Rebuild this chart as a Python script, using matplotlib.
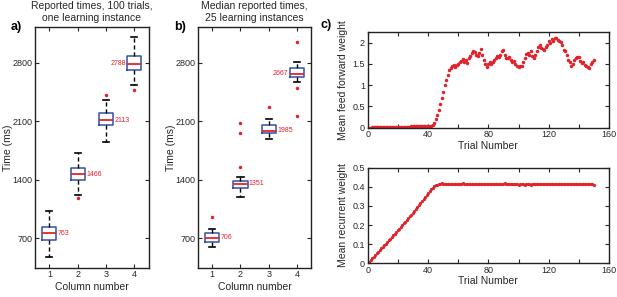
import matplotlib
matplotlib.use("Agg")
import matplotlib.pyplot as plt
import numpy as np

plt.rcParams['font.family'] = ['Liberation Sans', 'DejaVu Sans']

# ---------------- data ----------------
columns = [1, 2, 3, 4]
a_med = [763, 1466, 2113, 2788]
a_q1 = [680, 1394, 2053, 2715]
a_q3 = [839, 1538, 2196, 2874]
a_lo = [476, 1222, 1856, 2535]
a_hi = [1030, 1717, 2355, 3101]
a_fliers = [[], [1186], [2415], [2476]]

b_med = [706, 1351, 1985, 2667]
b_q1 = [659, 1299, 1959, 2629]
b_q3 = [770, 1390, 2058, 2740]
b_lo = [598, 1190, 1887, 2569]
b_hi = [815, 1438, 2132, 2812]
b_fliers = [[958], [1550, 1957, 2077], [2265], [2166, 2501, 3044]]

time_ticks = [700, 1400, 2100, 2800]

trials = list(range(1, 151))
ff_weight = [
    0.00, 0.00, 0.01, 0.01, 0.01, 0.01, 0.01, 0.01, 0.01, 0.01,
    0.01, 0.01, 0.01, 0.02, 0.02, 0.02, 0.02, 0.02, 0.02, 0.02,
    0.02, 0.02, 0.02, 0.02, 0.02, 0.02, 0.02, 0.02, 0.03, 0.03,
    0.03, 0.03, 0.03, 0.03, 0.03, 0.03, 0.03, 0.03, 0.03, 0.03,
    0.04, 0.05, 0.07, 0.12, 0.20, 0.30, 0.42, 0.55, 0.70, 0.85,
    1.00, 1.12, 1.25, 1.35, 1.40, 1.45, 1.47, 1.43, 1.48, 1.50,
    1.55, 1.58, 1.62, 1.55, 1.60, 1.52, 1.65, 1.68, 1.75, 1.80,
    1.78, 1.70, 1.68, 1.75, 1.85, 1.72, 1.60, 1.50, 1.43, 1.50,
    1.55, 1.50, 1.55, 1.60, 1.65, 1.68, 1.67, 1.72, 1.80, 1.82,
    1.70, 1.65, 1.63, 1.67, 1.60, 1.55, 1.57, 1.50, 1.45, 1.44,
    1.45, 1.46, 1.55, 1.65, 1.73, 1.75, 1.72, 1.80, 1.68, 1.65,
    1.70, 1.80, 1.90, 1.95, 1.88, 1.85, 1.83, 1.90, 1.95, 2.05,
    2.00, 2.08, 2.05, 2.10, 2.12, 2.07, 2.05, 2.02, 1.95, 1.83,
    1.80, 1.72, 1.60, 1.55, 1.45, 1.50, 1.60, 1.65, 1.67, 1.66,
    1.58, 1.52, 1.55, 1.48, 1.45, 1.42, 1.40, 1.50, 1.55, 1.60,
]
rec_weight = [
    0.008, 0.017, 0.026, 0.035, 0.043, 0.052, 0.061, 0.069, 0.078, 0.086,
    0.095, 0.103, 0.112, 0.120, 0.129, 0.137, 0.146, 0.155, 0.164, 0.173,
    0.182, 0.191, 0.200, 0.209, 0.218, 0.227, 0.236, 0.246, 0.255, 0.264,
    0.274, 0.284, 0.294, 0.304, 0.314, 0.324, 0.334, 0.345, 0.355, 0.366,
    0.376, 0.386, 0.395, 0.402, 0.408, 0.412, 0.415, 0.417, 0.418, 0.417,
    0.416, 0.415, 0.414, 0.416, 0.415, 0.413, 0.414, 0.416, 0.417, 0.416,
    0.415, 0.417, 0.418, 0.416, 0.415, 0.414, 0.416, 0.417, 0.415, 0.414,
    0.413, 0.415, 0.416, 0.415, 0.414, 0.416, 0.417, 0.416, 0.415, 0.416,
    0.417, 0.415, 0.414, 0.415, 0.416, 0.417, 0.416, 0.415, 0.416, 0.417,
    0.418, 0.416, 0.415, 0.414, 0.413, 0.414, 0.415, 0.414, 0.413, 0.412,
    0.413, 0.414, 0.413, 0.412, 0.413, 0.414, 0.413, 0.412, 0.414, 0.415,
    0.414, 0.413, 0.415, 0.416, 0.415, 0.414, 0.415, 0.416, 0.415, 0.414,
    0.416, 0.417, 0.416, 0.415, 0.414, 0.415, 0.416, 0.415, 0.416, 0.417,
    0.416, 0.415, 0.414, 0.413, 0.414, 0.415, 0.414, 0.413, 0.414, 0.415,
    0.414, 0.413, 0.414, 0.415, 0.414, 0.413, 0.414, 0.413, 0.413, 0.412,
]
trial_ticks = [0, 20, 40, 60, 80, 100, 120, 140, 160]

# ---------------- style ----------------
TXT = '#262626'
BLUE = '#3050a8'
RED = '#e3232c'
W, H = 617, 297

fig = plt.figure(figsize=(W / 100, H / 100), dpi=100)


def frac(left, top, right, bottom):
    return [left / W, 1 - bottom / H, (right - left) / W, (bottom - top) / H]


def style_axes(ax):
    for s in ax.spines.values():
        s.set_linewidth(1.0)
        s.set_color('#222222')
    ax.tick_params(direction='in', length=3, width=0.8, top=True, right=True,
                   labelsize=6.5, colors=TXT, pad=2)


def box_panel(ax, med, q1, q3, lo, hi, fliers, title, letter):
    stats = []
    for i in range(len(columns)):
        stats.append(dict(med=med[i], q1=q1[i], q3=q3[i], whislo=lo[i],
                          whishi=hi[i], fliers=fliers[i]))
    ax.bxp(stats, positions=columns, widths=0.5, capwidths=0.22,
           boxprops=dict(color=BLUE, linewidth=1.1),
           medianprops=dict(color=RED, linewidth=1.3),
           whiskerprops=dict(color='black', linewidth=1.0, linestyle=(0, (3, 2))),
           capprops=dict(color='black', linewidth=1.2),
           flierprops=dict(marker='.', markersize=3, markerfacecolor=RED,
                           markeredgecolor=RED, linestyle='none'))
    for i, c in enumerate(columns):
        if i == len(columns) - 1:
            ax.text(c - 0.3, med[i], str(med[i]), color=RED, fontsize=5,
                    ha='right', va='center')
        else:
            ax.text(c + 0.3, med[i], str(med[i]), color=RED, fontsize=5,
                    ha='left', va='center')
    ax.set_xlim(0.5, 4.5)
    ax.set_ylim(350, 3225)
    ax.set_yticks(time_ticks)
    ax.set_xticks(columns)
    ax.set_xticklabels([str(c) for c in columns])
    ax.set_xlabel('Column number', fontsize=7.5, color=TXT, labelpad=2)
    ax.set_ylabel('Time (ms)', fontsize=7.5, color=TXT)
    ax.yaxis.set_label_coords(-0.20, 0.5)
    ax.set_title(title, fontsize=7.5, color=TXT, pad=4, linespacing=1.25)
    style_axes(ax)
    ax.text(-0.215, 1.0, letter, transform=ax.transAxes, fontsize=9,
            fontweight='bold', ha='left', va='center', color='black')


ax_a = fig.add_axes(frac(35.2, 27, 148.5, 267.7))
box_panel(ax_a, a_med, a_q1, a_q3, a_lo, a_hi, a_fliers,
          'Reported times, 100 trials,\none learning instance', 'a)')
ax_b = fig.add_axes(frac(198.2, 27, 311, 267.7))
box_panel(ax_b, b_med, b_q1, b_q3, b_lo, b_hi, b_fliers,
          'Median reported times,\n25 learning instances', 'b)')

ax_c1 = fig.add_axes(frac(367.7, 31.7, 609, 127.7))
ax_c1.plot(trials, ff_weight, linestyle='none', marker='.', markersize=3,
           color=RED)
ax_c1.set_xlim(0, 160)
ax_c1.set_ylim(0, 2.26)
ax_c1.set_yticks([0, 0.5, 1, 1.5, 2])
ax_c1.set_yticklabels(['0', '0.5', '1', '1.5', '2'])
ax_c1.set_ylabel('Mean feed forward weight', fontsize=7.5, color=TXT)

ax_c2 = fig.add_axes(frac(367.7, 167.7, 609, 263.3))
ax_c2.plot(trials, rec_weight, linestyle='none', marker='.', markersize=2.6,
           color=RED)
ax_c2.set_xlim(0, 160)
ax_c2.set_ylim(0, 0.5)
ax_c2.set_yticks([0, 0.1, 0.2, 0.3, 0.4, 0.5])
ax_c2.set_yticklabels(['0', '0.1', '0.2', '0.3', '0.4', '0.5'])
ax_c2.set_ylabel('Mean recurrent weight', fontsize=7.5, color=TXT)

for ax in (ax_c1, ax_c2):
    ax.set_xticks(trial_ticks)
    ax.set_xticklabels([str(t) if t % 40 == 0 else '' for t in trial_ticks])
    ax.set_xlabel('Trial Number', fontsize=7.5, color=TXT, labelpad=1)
    ax.yaxis.set_label_coords(-0.082, 0.5)
    style_axes(ax)

ax_c1.text(-0.195, 1.07, 'c)', transform=ax_c1.transAxes, fontsize=9,
           fontweight='bold', ha='left', va='center', color='black')

fig.savefig('out.png', dpi=100)
